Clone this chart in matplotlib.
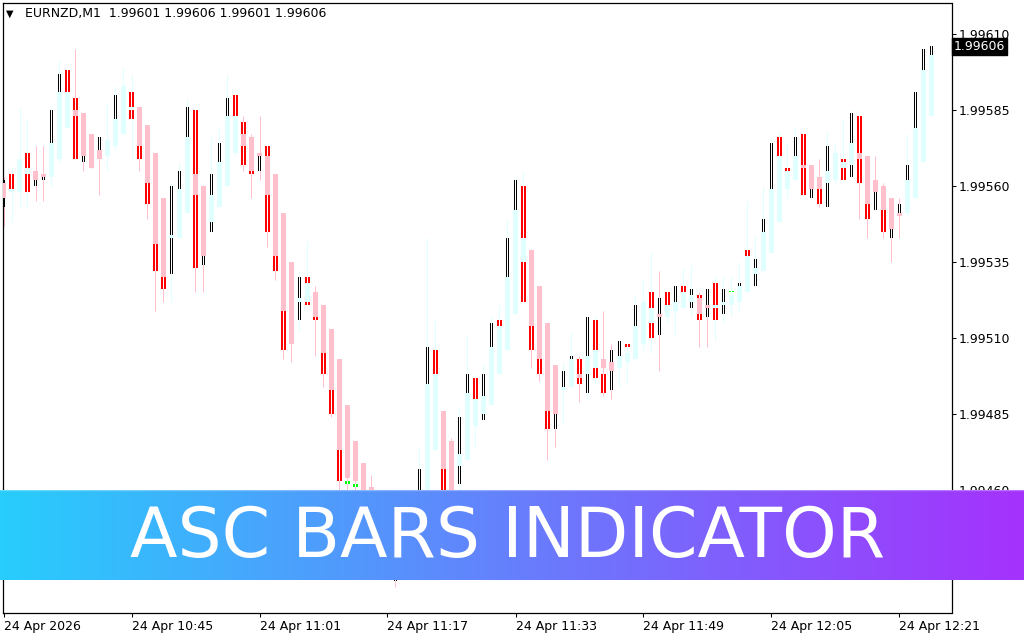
import numpy as np
import matplotlib.pyplot as plt
from matplotlib.colors import LinearSegmentedColormap

# M1 candles, 24 Apr 10:29 .. 12:25
opens = [1.99561, 1.99558, 1.99558, 1.99564, 1.99565, 1.99564, 1.99563, 1.99569, 1.99579, 1.99585,
         1.99584, 1.99577, 1.99572, 1.99570, 1.99573, 1.99577, 1.99585, 1.99586, 1.99580, 1.99571,
         1.99556, 1.99543, 1.99543, 1.99551, 1.99564, 1.99560, 1.99548, 1.99553, 1.99560, 1.99571,
         1.99577, 1.99576, 1.99571, 1.99570, 1.99564, 1.99551, 1.99535, 1.99522, 1.99522, 1.99525,
         1.99521, 1.99513, 1.99503, 1.99488, 1.99476, 1.99469, 1.99461, 1.99445, 1.99440, 1.99442,
         1.99436, 1.99446, 1.99450, 1.99452, 1.99473, 1.99486, 1.99476, 1.99468, 1.99470, 1.99481,
         1.99485, 1.99488, 1.99498, 1.99506, 1.99518, 1.99535, 1.99539, 1.99527, 1.99515, 1.99501,
         1.99493, 1.99494, 1.99498, 1.99498, 1.99500, 1.99503, 1.99502, 1.99500, 1.99502, 1.99503,
         1.99508, 1.99515, 1.99518, 1.99517, 1.99519, 1.99520, 1.99522, 1.99523, 1.99521, 1.99520,
         1.99521, 1.99521, 1.99522, 1.99525, 1.99531, 1.99532, 1.99538, 1.99548, 1.99559, 1.99562,
         1.99567, 1.99567, 1.99563, 1.99561, 1.99562, 1.99566, 1.99567, 1.99571, 1.99570, 1.99562,
         1.99560, 1.99556, 1.99551, 1.99551, 1.99556, 1.99568, 1.99583]
highs = [1.99563, 1.99566, 1.99586, 1.99582, 1.99573, 1.99573, 1.99586, 1.99601, 1.99598, 1.99605,
         1.99584, 1.99577, 1.99576, 1.99587, 1.99593, 1.99599, 1.99597, 1.99586, 1.99580, 1.99571,
         1.99556, 1.99561, 1.99568, 1.99589, 1.99585, 1.99560, 1.99576, 1.99579, 1.99597, 1.99590,
         1.99583, 1.99577, 1.99583, 1.99573, 1.99564, 1.99551, 1.99535, 1.99532, 1.99542, 1.99527,
         1.99521, 1.99513, 1.99503, 1.99488, 1.99476, 1.99469, 1.99465, 1.99450, 1.99444, 1.99446,
         1.99452, 1.99458, 1.99474, 1.99543, 1.99516, 1.99486, 1.99477, 1.99487, 1.99511, 1.99498,
         1.99501, 1.99517, 1.99521, 1.99549, 1.99563, 1.99565, 1.99539, 1.99527, 1.99515, 1.99501,
         1.99502, 1.99512, 1.99504, 1.99517, 1.99517, 1.99519, 1.99508, 1.99509, 1.99508, 1.99524,
         1.99529, 1.99538, 1.99532, 1.99525, 1.99527, 1.99533, 1.99534, 1.99525, 1.99526, 1.99530,
         1.99530, 1.99530, 1.99535, 1.99555, 1.99544, 1.99560, 1.99576, 1.99578, 1.99574, 1.99579,
         1.99577, 1.99567, 1.99569, 1.99578, 1.99574, 1.99582, 1.99585, 1.99583, 1.99570, 1.99570,
         1.99561, 1.99556, 1.99556, 1.99577, 1.99591, 1.99605, 1.99606]
lows = [1.99547, 1.99548, 1.99553, 1.99553, 1.99555, 1.99555, 1.99560, 1.99568, 1.99579, 1.99569,
        1.99565, 1.99566, 1.99557, 1.99565, 1.99572, 1.99577, 1.99569, 1.99565, 1.99549, 1.99519,
        1.99522, 1.99522, 1.99543, 1.99551, 1.99525, 1.99525, 1.99545, 1.99553, 1.99560, 1.99570,
        1.99565, 1.99556, 1.99562, 1.99540, 1.99529, 1.99503, 1.99502, 1.99512, 1.99521, 1.99504,
        1.99494, 1.99484, 1.99458, 1.99458, 1.99460, 1.99440, 1.99435, 1.99433, 1.99433, 1.99428,
        1.99434, 1.99440, 1.99448, 1.99448, 1.99473, 1.99455, 1.99445, 1.99458, 1.99470, 1.99474,
        1.99483, 1.99488, 1.99498, 1.99506, 1.99518, 1.99522, 1.99500, 1.99496, 1.99470, 1.99474,
        1.99482, 1.99494, 1.99489, 1.99490, 1.99495, 1.99491, 1.99490, 1.99494, 1.99495, 1.99503,
        1.99506, 1.99505, 1.99499, 1.99515, 1.99511, 1.99520, 1.99517, 1.99507, 1.99507, 1.99509,
        1.99515, 1.99517, 1.99519, 1.99525, 1.99527, 1.99532, 1.99538, 1.99548, 1.99556, 1.99562,
        1.99557, 1.99556, 1.99553, 1.99553, 1.99561, 1.99562, 1.99563, 1.99549, 1.99543, 1.99552,
        1.99543, 1.99535, 1.99543, 1.99550, 1.99556, 1.99568, 1.99583]
closes = [1.99556, 1.99559, 1.99569, 1.99566, 1.99562, 1.99563, 1.99574, 1.99591, 1.99591, 1.99583,
          1.99570, 1.99566, 1.99569, 1.99575, 1.99582, 1.99593, 1.99586, 1.99573, 1.99561, 1.99541,
          1.99530, 1.99544, 1.99559, 1.99576, 1.99557, 1.99537, 1.99557, 1.99568, 1.99583, 1.99583,
          1.99573, 1.99565, 1.99570, 1.99557, 1.99537, 1.99519, 1.99508, 1.99523, 1.99528, 1.99517,
          1.99505, 1.99493, 1.99473, 1.99464, 1.99463, 1.99445, 1.99440, 1.99436, 1.99435, 1.99434,
          1.99448, 1.99454, 1.99459, 1.99495, 1.99498, 1.99467, 1.99450, 1.99472, 1.99492, 1.99490,
          1.99491, 1.99507, 1.99514, 1.99530, 1.99552, 1.99543, 1.99514, 1.99503, 1.99486, 1.99485,
          1.99494, 1.99503, 1.99497, 1.99504, 1.99506, 1.99500, 1.99499, 1.99504, 1.99505, 1.99514,
          1.99522, 1.99520, 1.99517, 1.99521, 1.99522, 1.99525, 1.99524, 1.99518, 1.99520, 1.99521,
          1.99522, 1.99524, 1.99527, 1.99537, 1.99533, 1.99545, 1.99559, 1.99570, 1.99565, 1.99570,
          1.99566, 1.99559, 1.99559, 1.99565, 1.99571, 1.99568, 1.99574, 1.99569, 1.99554, 1.99558,
          1.99552, 1.99546, 1.99550, 1.99562, 1.99579, 1.99598, 1.99603]

# ASC bars indicator segments (None = no segment on that bar)
asc_hi = [1.99562, 1.99564, None, 1.99571, 1.99562, 1.99563, 1.99585, 1.99597, 1.99598, 1.99589,
          1.99570, None, 1.99576, None, 1.99590, None, 1.99591, 1.99573, 1.99561, 1.99541,
          1.99530, 1.99560, 1.99565, 1.99586, 1.99585, 1.99537, 1.99564, 1.99574, 1.99589, 1.99590,
          1.99581, 1.99565, 1.99570, 1.99573, 1.99537, 1.99519, None, 1.99530, 1.99530, 1.99517,
          1.99505, 1.99493, 1.99473, 1.99463, 1.99462, None, None, None, None, 1.99434,
          None, None, 1.99467, 1.99507, 1.99506, 1.99467, None, 1.99484, 1.99498, 1.99497,
          1.99498, 1.99515, 1.99516, 1.99543, 1.99562, 1.99560, 1.99514, 1.99503, 1.99486, 1.99485,
          1.99499, 1.99504, 1.99503, 1.99517, 1.99516, 1.99498, 1.99506, 1.99509, 1.99508, 1.99521,
          None, 1.99525, 1.99523, 1.99525, 1.99527, 1.99527, 1.99526, 1.99524, 1.99526, 1.99528,
          1.99526, 1.99525, 1.99528, 1.99539, 1.99536, 1.99549, 1.99574, 1.99576, 1.99566, 1.99576,
          1.99577, 1.99559, 1.99559, 1.99573, None, 1.99569, 1.99584, 1.99583, 1.99554, 1.99558,
          1.99552, 1.99546, 1.99554, 1.99567, 1.99591, 1.99605, 1.99606]
asc_lo = [1.99553, 1.99558, None, 1.99558, 1.99560, 1.99562, 1.99574, 1.99591, 1.99591, 1.99569,
          1.99568, None, 1.99572, None, 1.99582, None, 1.99582, 1.99569, 1.99554, 1.99532,
          1.99526, 1.99531, 1.99559, 1.99576, 1.99533, 1.99534, 1.99545, 1.99568, 1.99583, 1.99583,
          1.99567, 1.99564, 1.99565, 1.99545, 1.99532, 1.99506, None, 1.99516, 1.99521, 1.99516,
          1.99498, 1.99485, 1.99463, 1.99462, 1.99461, None, None, None, None, 1.99430,
          None, None, 1.99458, 1.99495, 1.99498, 1.99458, None, 1.99462, 1.99492, 1.99490,
          1.99483, 1.99507, 1.99514, 1.99530, 1.99552, 1.99522, 1.99506, 1.99498, 1.99480, 1.99480,
          1.99494, 1.99503, 1.99495, 1.99492, 1.99497, 1.99492, 1.99493, 1.99504, 1.99507, 1.99514,
          None, 1.99510, 1.99511, 1.99521, 1.99522, 1.99525, 1.99520, 1.99516, 1.99517, 1.99516,
          1.99518, 1.99525, 1.99527, 1.99537, 1.99527, 1.99545, 1.99559, 1.99570, 1.99565, 1.99570,
          1.99557, 1.99556, 1.99554, 1.99553, None, 1.99562, 1.99563, 1.99561, 1.99549, 1.99552,
          1.99545, 1.99543, 1.99551, 1.99562, 1.99579, 1.99598, 1.99603]
R, K, G = 'red', 'black', 'lime'
asc_color = [K, R, None, R, K, K, K, K, R, R,
             K, None, K, None, K, None, R, R, R, R,
             R, K, K, K, R, K, K, K, K, R,
             R, R, K, R, R, R, None, K, R, R,
             R, R, R, G, G, None, None, None, None, K,
             None, None, K, K, R, R, None, K, K, R,
             K, K, R, K, K, R, R, R, R, K,
             K, K, R, K, R, R, K, K, R, K,
             None, R, K, R, K, R, K, R, K, R,
             K, G, K, R, K, K, K, R, R, K,
             R, K, R, K, None, R, K, R, R, K,
             R, K, K, K, K, K, K]

tick_bars = [0, 16, 32, 48, 64, 80, 96, 112]
tick_labels = ['24 Apr 2026', '24 Apr 10:45', '24 Apr 11:01', '24 Apr 11:17',
               '24 Apr 11:33', '24 Apr 11:49', '24 Apr 12:05', '24 Apr 12:21']
price_ticks = [1.99435, 1.99460, 1.99485, 1.99510, 1.99535, 1.99560, 1.99585, 1.99610]
symbol = 'EURNZD,M1'
header_ohlc = ['1.99601', '1.99606', '1.99601', '1.99606']
last_price = 1.99606

fig = plt.figure(figsize=(10.24, 6.4), dpi=100)
ax = fig.add_axes([2.5 / 1024, 27 / 640, 949 / 1024, 610.5 / 640])

o = np.array(opens)
c = np.array(closes)
x = np.arange(len(o))
up = c > o
pink, cyan = '#ffc0cb', '#e0ffff'

# wicks
ax.vlines(x, lows, highs, colors=np.where(up, cyan, pink), lw=0.72, zorder=1)

# indicator double bars
for i, col in enumerate(asc_color):
    if col is None:
        continue
    lo, hi = asc_lo[i], asc_hi[i]
    h = max(hi - lo, 0.35e-5)
    if col == K:
        off, w = 1 / 8, 1 / 8
    else:
        off, w = 1.5 / 8, 2 / 8
    ax.bar(i, h, bottom=lo, width=2 * off + w, color='white', lw=0, zorder=2)
    ax.bar([i - off, i + off], h, bottom=lo, width=w, color=col, lw=0, zorder=2.5)

# bodies
ax.bar(x, np.maximum(np.abs(c - o), 0.35e-5), bottom=np.minimum(o, c), width=5 / 8,
       color=np.where(up, cyan, pink), lw=0, zorder=3)

ax.set_xlim(-0.125, 118.5)
ax.set_ylim(1.9941954, 1.9962036)
ax.yaxis.tick_right()
ax.set_yticks(price_ticks)
ax.set_yticklabels([f'{p:.5f}' for p in price_ticks])
ax.set_xticks(tick_bars)
ax.set_xticklabels(tick_labels, ha='left')
ax.tick_params(axis='y', length=3, width=0.75, pad=2, labelsize=9)
ax.tick_params(axis='x', length=3, width=0.75, pad=2, labelsize=9)
for s in ax.spines.values():
    s.set_linewidth(0.9)

# current price tag (sits over the 1.99610 label, as in the terminal)
ax.text(1.0025, last_price, f'{last_price:.5f}', transform=ax.get_yaxis_transform(),
        color='white', fontsize=9, va='center', ha='left', zorder=10, clip_on=False,
        bbox=dict(facecolor='black', edgecolor='black', boxstyle='square,pad=0.15'))

fig.text(6 / 1024, 1 - 14 / 640, '\u25bc', fontsize=7, va='center')
fig.text(25 / 1024, 1 - 14 / 640, symbol + '  ' + ' '.join(header_ohlc), fontsize=9, va='center')

# banner
bax = fig.add_axes([0, 60 / 640, 1, 90 / 640])
cmap = LinearSegmentedColormap.from_list('banner', ['#28cdfc', '#a432fc'])
bax.imshow(np.linspace(0, 1, 256)[None, :], cmap=cmap, aspect='auto', extent=[0, 1, 0, 1])
bax.axhline(0.995, color='white', alpha=0.3, lw=1)
bax.set_xlim(0, 1)
bax.set_ylim(0, 1)
bax.axis('off')
bax.text(0.496, 0.256, 'ASC BARS INDICATOR', color='white', fontsize=50,
         family='DejaVu Sans', ha='center', va='baseline')

fig.savefig('out.png', dpi=100)
